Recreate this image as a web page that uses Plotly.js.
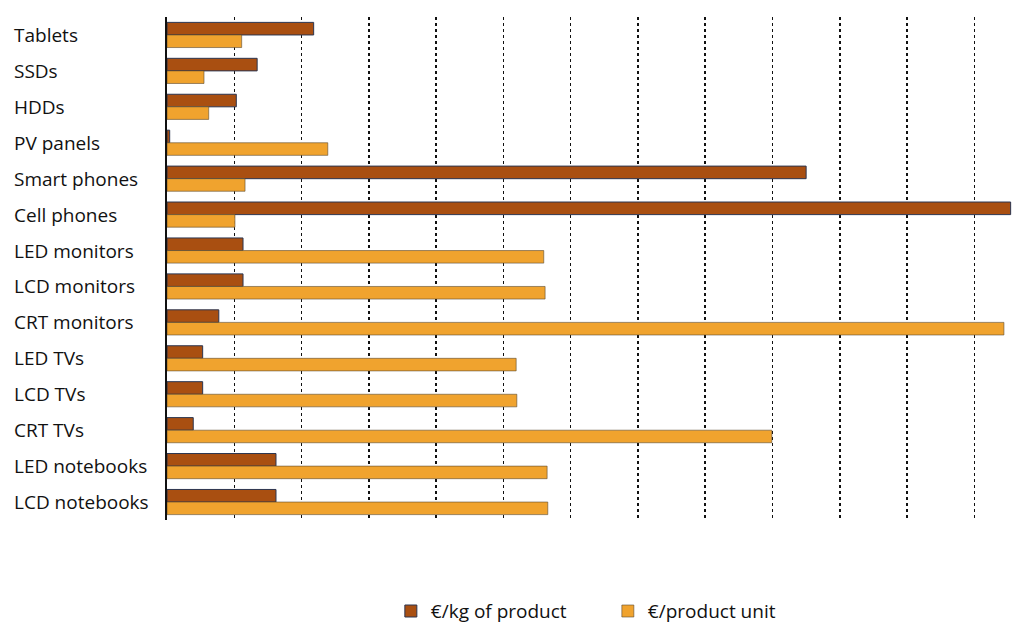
<!DOCTYPE html>
<html>
<head>
<meta charset="utf-8">
<script src="https://cdn.plot.ly/plotly-3.0.1.min.js"></script>
<style>html,body{margin:0;padding:0;background:#fff}#chart{width:1034px;height:623px}</style>
</head>
<body>
<div id="chart"></div>
<script>
const categories = ["Tablets","SSDs","HDDs","PV panels","Smart phones","Cell phones","LED monitors","LCD monitors","CRT monitors","LED TVs","LCD TVs","CRT TVs","LED notebooks","LCD notebooks"];
const perKg = [21.8,13.4,10.3,0.4,95.0,125.4,11.3,11.3,7.7,5.3,5.3,3.9,16.2,16.2];
const perUnit = [11.1,5.5,6.2,23.9,11.6,10.1,56.0,56.2,124.4,51.9,52.0,89.9,56.5,56.6];
const seriesNames = ["€/kg of product","€/product unit"];

const FONT = "Open Sans, sans-serif";
const traces = [
  {type:"bar", orientation:"h", name:seriesNames[0], y:categories, x:perKg,
   marker:{color:"#A94F11", line:{color:"#2b3550", width:1}}},
  {type:"bar", orientation:"h", name:seriesNames[1], y:categories, x:perUnit,
   marker:{color:"#F0A32E", line:{color:"#5a4a30", width:0.6}}}
];
const annotations = categories.map(c => ({
  xref:"paper", yref:"y", x:-0.183, y:c, text:c, showarrow:false,
  xanchor:"left", yanchor:"middle", font:{family:FONT, size:19, color:"#111"}
}));
const layout = {
  width:1034, height:623,
  margin:{l:167, r:22, t:17, b:103},
  paper_bgcolor:"#fff", plot_bgcolor:"#fff",
  barmode:"group", bargap:0.3, bargroupgap:0,
  xaxis:{range:[0,125.6], dtick:10, showticklabels:false, showgrid:true,
         gridcolor:"#111", griddash:"dot", gridwidth:1.5, zeroline:false, showline:false, ticks:""},
  yaxis:{autorange:"reversed", showticklabels:false, showline:true, linecolor:"#111", linewidth:2,
         ticks:"", showgrid:false, zeroline:false},
  showlegend:true,
  legend:{orientation:"h", xref:"container", yref:"container", x:0.378, xanchor:"left",
          y:0.019, yanchor:"middle", entrywidth:172, entrywidthmode:"pixels",
          font:{family:FONT, size:19, color:"#111"}, tracegroupgap:0},
  annotations:annotations,
  font:{family:FONT}
};
Plotly.newPlot("chart", traces, layout, {displayModeBar:false, staticPlot:true});
</script>
</body>
</html>
